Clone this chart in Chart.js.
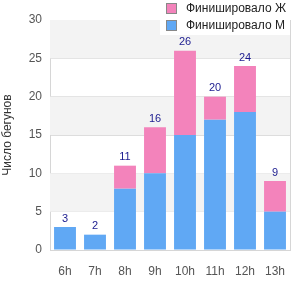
<!DOCTYPE html>
<html>
<head>
<meta charset="utf-8">
<script src="https://cdn.jsdelivr.net/npm/chart.js@4/dist/chart.umd.min.js"></script>
<style>
  html, body { margin: 0; padding: 0; background: #fff; }
  #wrap { width: 300px; height: 300px; }
</style>
</head>
<body>
<div id="wrap"><canvas id="c" width="300" height="300"></canvas></div>
<script>
const hours = ["6h", "7h", "8h", "9h", "10h", "11h", "12h", "13h"];
const finishedM = [3, 2, 8, 10, 15, 17, 18, 5];
const finishedF = [0, 0, 3, 6, 11, 3, 6, 4];
const yTicks = [0, 5, 10, 15, 20, 25, 30];

const pink = "#f383bb";
const blue = "#60a8f4";
const font = "'Liberation Sans', Arial, sans-serif";

// alternating bands behind the bars
const bandsPlugin = {
  id: "bands",
  beforeDatasetsDraw(chart) {
    const { ctx, chartArea, scales } = chart;
    ctx.save();
    for (let i = 1; i < yTicks.length - 1; i += 2) {
      const top = scales.y.getPixelForValue(yTicks[i + 1]);
      const bot = scales.y.getPixelForValue(yTicks[i]);
      ctx.fillStyle = "#f3f3f3";
      ctx.fillRect(chartArea.left, top, chartArea.right - chartArea.left, bot - top);
    }
    ctx.restore();
  }
};

// totals above each stack, right border, legend box
const overlayPlugin = {
  id: "overlay",
  afterDraw(chart) {
    const { ctx, scales, chartArea } = chart;
    ctx.save();
    ctx.strokeStyle = "#d6d6d6";
    ctx.lineWidth = 1;
    ctx.beginPath();
    ctx.moveTo(Math.round(chartArea.right) + 0.5, chartArea.top);
    ctx.lineTo(Math.round(chartArea.right) + 0.5, chartArea.bottom);
    ctx.stroke();

    ctx.font = "11px " + font;
    ctx.fillStyle = "#1b1b8f";
    ctx.textAlign = "center";
    ctx.textBaseline = "bottom";
    hours.forEach((h, i) => {
      const total = finishedM[i] + finishedF[i];
      const x = scales.x.getPixelForValue(i);
      const y = scales.y.getPixelForValue(total);
      ctx.fillText(String(total), x, y - 3);
    });

    // legend
    ctx.fillStyle = "#fff";
    ctx.fillRect(160, 0, 130, 35);
    const items = [
      { label: chart.data.datasets[1].label, color: pink },
      { label: chart.data.datasets[0].label, color: blue }
    ];
    ctx.textAlign = "left";
    ctx.textBaseline = "middle";
    ctx.font = "12px " + font;
    items.forEach((it, k) => {
      const yy = 8 + k * 17;
      ctx.fillStyle = it.color;
      ctx.fillRect(167, yy - 4, 9, 9);
      ctx.strokeStyle = "#888";
      ctx.strokeRect(166.5, yy - 4.5, 10, 10);
      ctx.fillStyle = "#222";
      ctx.fillText(it.label, 186, yy + 1);
    });
    ctx.restore();
  }
};

new Chart(document.getElementById("c"), {
  type: "bar",
  data: {
    labels: hours,
    datasets: [
      { label: "Финишировало М", data: finishedM, backgroundColor: blue, borderWidth: 0 },
      { label: "Финишировало Ж", data: finishedF, backgroundColor: pink, borderWidth: 0 }
    ]
  },
  options: {
    responsive: false,
    animation: false,
    layout: { padding: { top: 20, right: 10, left: 0, bottom: 0 } },
    datasets: { bar: { categoryPercentage: 1, barPercentage: 0.73 } },
    plugins: { legend: { display: false }, tooltip: { enabled: false } },
    scales: {
      x: {
        stacked: true,
        grid: { display: false },
        border: { color: "#d6d6d6" },
        ticks: { color: "#555", font: { family: font, size: 12 }, padding: 6 },
        afterFit(s) { s.height = 50; }
      },
      y: {
        stacked: true,
        min: 0,
        max: 30,
        ticks: { stepSize: 5, color: "#555", font: { family: font, size: 12 }, padding: 8 },
        grid: { color: "#dddddd", drawTicks: false },
        border: { color: "#d6d6d6" },
        title: { display: true, text: "Число бегунов", color: "#333", font: { family: font, size: 12 }, padding: 0 },
        afterFit(s) { s.width = 50; }
      }
    }
  },
  plugins: [bandsPlugin, overlayPlugin]
});
</script>
</body>
</html>
